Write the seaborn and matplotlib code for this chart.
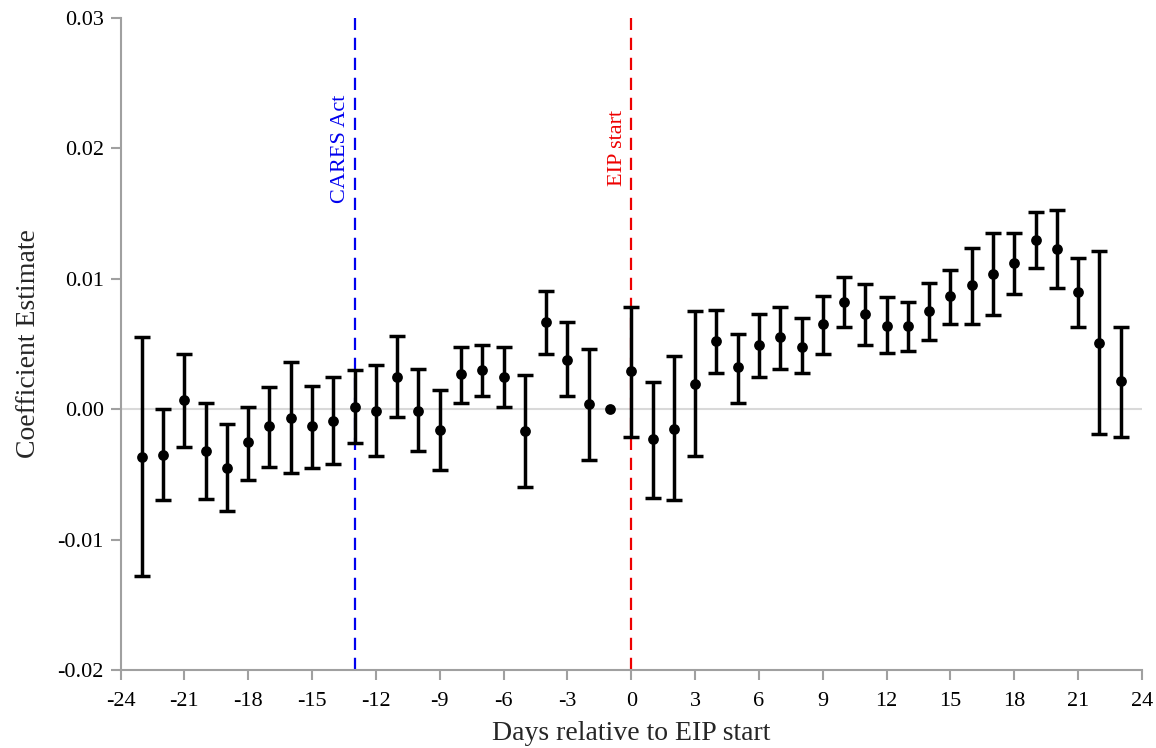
import numpy as np
import pandas as pd
import matplotlib
matplotlib.use("Agg")
import matplotlib.pyplot as plt
import seaborn as sns

# Event-study estimates: days relative to EIP start
days = list(range(-23, 24))
coef = [-0.0037, -0.0035, 0.0007, -0.0032, -0.0045, -0.0025, -0.0013, -0.0007,
        -0.0013, -0.0009, 0.0002, -0.0001, 0.0025, -0.0001, -0.0016, 0.0027,
        0.0030, 0.0025, -0.0017, 0.0067, 0.0038, 0.0004, 0.0000, 0.0029,
        -0.0023, -0.0015, 0.0019, 0.0052, 0.0032, 0.0049, 0.0055, 0.0048,
        0.0065, 0.0082, 0.0073, 0.0064, 0.0064, 0.0075, 0.0087, 0.0095,
        0.0104, 0.0112, 0.0130, 0.0123, 0.0090, 0.0051, 0.0022]
ci_low = [-0.0128, -0.0070, -0.0029, -0.0069, -0.0078, -0.0054, -0.0044, -0.0049,
          -0.0045, -0.0042, -0.0026, -0.0036, -0.0006, -0.0032, -0.0047, 0.0005,
          0.0010, 0.0002, -0.0060, 0.0042, 0.0010, -0.0039, np.nan, -0.0021,
          -0.0068, -0.0070, -0.0036, 0.0028, 0.0005, 0.0025, 0.0031, 0.0028,
          0.0042, 0.0063, 0.0049, 0.0043, 0.0045, 0.0053, 0.0065, 0.0065,
          0.0072, 0.0088, 0.0108, 0.0093, 0.0063, -0.0019, -0.0021]
ci_high = [0.0055, 0.0000, 0.0042, 0.0005, -0.0011, 0.0002, 0.0017, 0.0036,
           0.0018, 0.0025, 0.0030, 0.0034, 0.0056, 0.0031, 0.0015, 0.0048,
           0.0049, 0.0048, 0.0026, 0.0091, 0.0067, 0.0046, np.nan, 0.0078,
           0.0021, 0.0041, 0.0075, 0.0076, 0.0058, 0.0073, 0.0078, 0.0070,
           0.0087, 0.0101, 0.0096, 0.0086, 0.0082, 0.0097, 0.0107, 0.0124,
           0.0135, 0.0135, 0.0151, 0.0153, 0.0116, 0.0121, 0.0063]

x_ticks = list(range(-24, 25, 3))
y_ticks = [-0.02, -0.01, 0.0, 0.01, 0.02, 0.03]
y_tick_labels = ["-0.02", "-0.01", "0.00", "0.01", "0.02", "0.03"]
events = [(-13, "CARES Act", "#0000ee"), (0, "EIP start", "#ee0000")]

df = pd.DataFrame({"day": days, "coef": coef, "lo": ci_low, "hi": ci_high})

sns.set_theme(style="white")
plt.rcParams["font.family"] = ["Liberation Serif", "DejaVu Serif"]

fig = plt.figure(figsize=(11.56, 7.48), dpi=100)
ax = fig.add_axes([120.5 / 1156, 1 - 670 / 748, (1142 - 120.5) / 1156, (670 - 18) / 748])

ax.axhline(0, color="#d9d9d9", lw=1.5, zorder=1)

for xv, label, col in events:
    ax.axvline(xv, color=col, lw=1.6, ls=(0, (5.5, 3.5)), zorder=2)
    ax.text(xv - 0.2, 0.02, label, rotation=90, color=col, fontsize=16,
            ha="right", va="center")

ci = df.dropna()
ax.errorbar(ci["day"], ci["coef"],
            yerr=[ci["coef"] - ci["lo"], ci["hi"] - ci["coef"]],
            fmt="none", ecolor="black", elinewidth=2.5, capsize=5.5,
            capthick=2.5, zorder=3)
sns.scatterplot(data=df, x="day", y="coef", ax=ax, color="black", s=60,
                marker="o", edgecolor="black", linewidth=0, zorder=4)

ax.set_xlim(-24, 24)
ax.set_ylim(-0.02, 0.03)
ax.set_xticks(x_ticks)
ax.set_xticklabels([str(t) for t in x_ticks])
ax.set_yticks(y_ticks)
ax.set_yticklabels(y_tick_labels)

for side in ["top", "right"]:
    ax.spines[side].set_visible(False)
for side in ["left", "bottom"]:
    ax.spines[side].set_color("#a0a0a0")
    ax.spines[side].set_linewidth(1.5)
ax.tick_params(axis="both", which="major", direction="out", length=7,
               width=1.5, color="#a0a0a0", labelsize=16, labelcolor="black",
               left=True, bottom=True)
ax.tick_params(axis="x", pad=9)
ax.tick_params(axis="y", pad=5)

ax.set_xlabel("Days relative to EIP start", fontsize=20, labelpad=7)
ax.set_ylabel("Coefficient Estimate", fontsize=20, labelpad=12)

fig.savefig("out.png", dpi=100)
